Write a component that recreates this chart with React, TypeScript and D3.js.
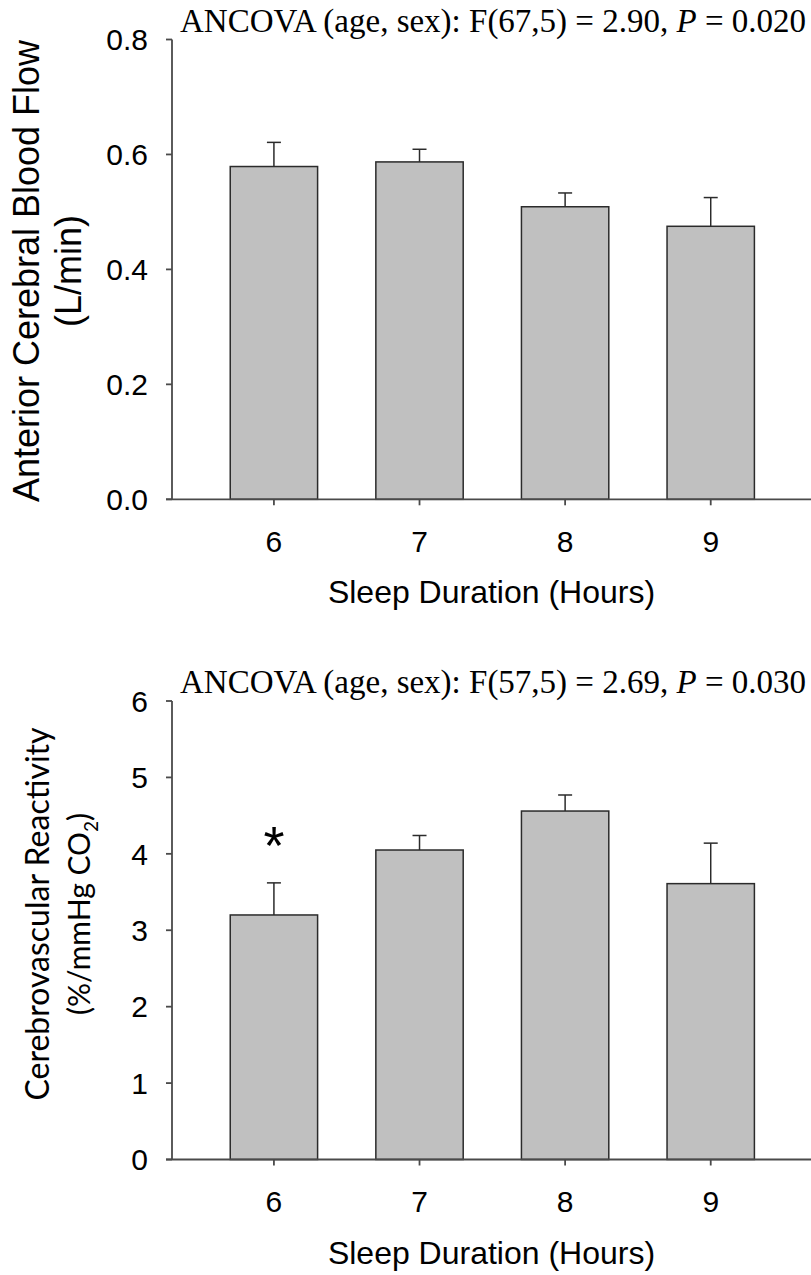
import React from "react";
import * as d3 from "d3";

// Sleep duration groups (hours)
const hours = [6, 7, 8, 9];

// Anterior cerebral blood flow (L/min): mean and upper error
const flowMean = [0.579, 0.587, 0.509, 0.475];
const flowErr = [0.042, 0.022, 0.024, 0.05];
const flowTicks = [0, 0.2, 0.4, 0.6, 0.8];

// Cerebrovascular reactivity (%/mmHg CO2): mean and upper error
const cvrMean = [3.2, 4.05, 4.56, 3.61];
const cvrErr = [0.42, 0.19, 0.21, 0.53];
const cvrTicks = [0, 1, 2, 3, 4, 5, 6];
const cvrSignificant = [true, false, false, false];

const W = 811;
const H = 1275;
const AXIS_X = 172;
const SANS = "'Liberation Sans', Arial, sans-serif";
const SERIF = "'Liberation Serif', 'Times New Roman', serif";

const x = d3.scaleLinear().domain([5.3, 9.7]).range([AXIS_X, AXIS_X + 4.4 * 145.6]);
const barW = x(6.6) - x(6);

type PanelProps = {
  means: number[];
  errs: number[];
  ticks: number[];
  yTop: number;
  yBottom: number;
  fmt: (v: number) => string;
  stats: { pre: string; post: string };
  yLabel: React.ReactNode;
  marks?: boolean[];
};

function Panel({ means, errs, ticks, yTop, yBottom, fmt, stats, yLabel, marks }: PanelProps) {
  const y = d3
    .scaleLinear()
    .domain([ticks[0], ticks[ticks.length - 1]])
    .range([yBottom, yTop]);
  const axisColor = "#4a4a4a";
  const capHalf = 7;
  return (
    <g>
      {/* statistics caption */}
      <text x={180} y={yTop - 8} fontFamily={SERIF} fontSize={33} fill="#000">
        {stats.pre}
        <tspan fontStyle="italic">P</tspan>
        {stats.post}
      </text>

      {/* bars */}
      {hours.map((h, i) => (
        <rect
          key={"b" + h}
          x={x(h) - barW / 2}
          y={y(means[i])}
          width={barW}
          height={y(0) - y(means[i])}
          fill="#c0c0c0"
          stroke="#2b2b2b"
          strokeWidth={1.5}
        />
      ))}

      {/* upper error bars */}
      {hours.map((h, i) => (
        <g key={"e" + h} stroke="#2b2b2b" strokeWidth={1.5}>
          <line x1={x(h)} x2={x(h)} y1={y(means[i])} y2={y(means[i] + errs[i])} />
          <line x1={x(h) - capHalf} x2={x(h) + capHalf} y1={y(means[i] + errs[i])} y2={y(means[i] + errs[i])} />
        </g>
      ))}

      {/* significance marks */}
      {marks &&
        hours.map((h, i) =>
          marks[i] ? (
            <text
              key={"s" + h}
              x={x(h)}
              y={y(means[i] + errs[i]) - 19}
              textAnchor="middle"
              fontFamily={SANS}
              fontSize={54}
              fill="#000"
            >
              *
            </text>
          ) : null
        )}

      {/* y axis */}
      <line x1={AXIS_X} x2={AXIS_X} y1={yTop} y2={yBottom} stroke={axisColor} strokeWidth={1.8} />
      {ticks.map((t) => (
        <g key={"yt" + t}>
          <line x1={AXIS_X - 6} x2={AXIS_X} y1={y(t)} y2={y(t)} stroke={axisColor} strokeWidth={1.8} />
          <text
            x={AXIS_X - 24}
            y={y(t)}
            dy="0.36em"
            textAnchor="end"
            fontFamily={SANS}
            fontSize={30}
            fill="#000"
          >
            {fmt(t)}
          </text>
        </g>
      ))}

      {/* x axis */}
      <line x1={AXIS_X - 6} x2={W} y1={yBottom} y2={yBottom} stroke={axisColor} strokeWidth={1.8} />
      {hours.map((h) => (
        <g key={"xt" + h}>
          <line x1={x(h)} x2={x(h)} y1={yBottom} y2={yBottom + 6} stroke={axisColor} strokeWidth={1.8} />
          <text x={x(h)} y={yBottom + 52.5} textAnchor="middle" fontFamily={SANS} fontSize={30} fill="#000">
            {h}
          </text>
        </g>
      ))}
      <text
        x={(AXIS_X + W) / 2}
        y={yBottom + 104}
        textAnchor="middle"
        fontFamily={SANS}
        fontSize={32}
        fill="#000"
      >
        Sleep Duration (Hours)
      </text>

      {yLabel}
    </g>
  );
}

export default function App() {
  const flowCenter = 271;
  const cvrCenter = 914;
  return (
    <svg
      width={W}
      height={H}
      viewBox={`0 0 ${W} ${H}`}
      style={{ position: "absolute", left: 0, top: 0, background: "#fff" }}
    >
      <rect width={W} height={H} fill="#fff" />
      <Panel
        means={flowMean}
        errs={flowErr}
        ticks={flowTicks}
        yTop={39.5}
        yBottom={499.3}
        fmt={d3.format(".1f")}
        stats={{ pre: "ANCOVA (age, sex): F(67,5) = 2.90, ", post: " = 0.020" }}
        yLabel={
          <g transform={`translate(0,${flowCenter}) rotate(-90)`} fontFamily={SANS} fontSize={36} fill="#000">
            <text x={0} y={39} textAnchor="middle">
              Anterior Cerebral Blood Flow
            </text>
            <text x={0} y={80.5} textAnchor="middle">
              (L/min)
            </text>
          </g>
        }
      />
      <Panel
        means={cvrMean}
        errs={cvrErr}
        ticks={cvrTicks}
        yTop={701}
        yBottom={1159.5}
        fmt={d3.format("d")}
        marks={cvrSignificant}
        stats={{ pre: "ANCOVA (age, sex): F(57,5) = 2.69, ", post: " = 0.030" }}
        yLabel={
          <g transform={`translate(0,${cvrCenter}) rotate(-90)`} fontFamily="Lato, 'Noto Sans', sans-serif" fontSize={32} fill="#000">
            <text x={0} y={49} textAnchor="middle">
              Cerebrovascular Reactivity
            </text>
            <text x={0} y={90} textAnchor="middle" fontSize={30}>
              (%/mmHg CO
              <tspan fontSize={19} dy={8}>2</tspan>
              <tspan dy={-8}>)</tspan>
            </text>
          </g>
        }
      />
    </svg>
  );
}
